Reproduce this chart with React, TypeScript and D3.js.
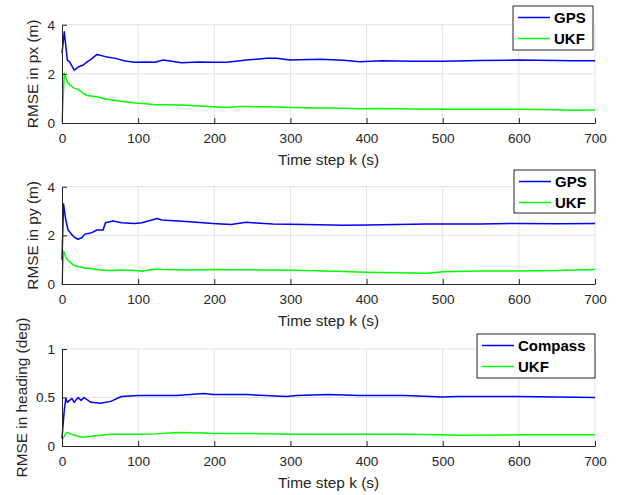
import React from "react";
import * as d3 from "d3";

// time steps + RMSE values
const stepsPx = [0, 3, 7, 10, 16, 22, 28, 33, 38, 46, 57, 70, 83, 96, 110, 122, 133, 157, 180, 198, 216, 234, 242, 269, 282, 299, 339, 370, 391, 420, 460, 500, 550, 600, 650, 670, 700];
const gpsPx = [2.83, 3.71, 2.56, 2.49, 2.15, 2.29, 2.36, 2.49, 2.59, 2.79, 2.7, 2.63, 2.52, 2.47, 2.48, 2.47, 2.56, 2.45, 2.48, 2.47, 2.47, 2.53, 2.56, 2.63, 2.63, 2.56, 2.59, 2.55, 2.49, 2.53, 2.51, 2.51, 2.54, 2.56, 2.54, 2.53, 2.53];
const ukfPx = [0.03, 2.02, 1.68, 1.55, 1.42, 1.35, 1.2, 1.12, 1.1, 1.07, 0.98, 0.92, 0.86, 0.81, 0.78, 0.74, 0.74, 0.73, 0.69, 0.66, 0.63, 0.67, 0.67, 0.66, 0.65, 0.63, 0.61, 0.6, 0.58, 0.59, 0.57, 0.56, 0.56, 0.56, 0.54, 0.52, 0.53];

const stepsPy = [0, 2, 5, 8, 15, 21, 26, 30, 39, 46, 54, 57, 67, 78, 96, 105, 118, 125, 131, 168, 198, 222, 242, 260, 277, 320, 370, 400, 440, 480, 500, 550, 600, 650, 700];
const gpsPy = [1.0, 3.29, 2.63, 2.22, 1.95, 1.84, 1.9, 2.05, 2.11, 2.22, 2.22, 2.52, 2.59, 2.52, 2.49, 2.52, 2.63, 2.69, 2.63, 2.56, 2.49, 2.45, 2.54, 2.5, 2.47, 2.45, 2.42, 2.43, 2.45, 2.47, 2.47, 2.47, 2.49, 2.48, 2.49];
const ukfPy = [0.0, 1.36, 1.1, 0.97, 0.78, 0.72, 0.69, 0.66, 0.63, 0.6, 0.57, 0.57, 0.55, 0.58, 0.55, 0.52, 0.6, 0.61, 0.6, 0.58, 0.6, 0.59, 0.59, 0.58, 0.58, 0.55, 0.51, 0.48, 0.46, 0.44, 0.5, 0.53, 0.53, 0.56, 0.6];

const stepsHd = [0, 3, 5, 7, 10, 13, 16, 21, 25, 29, 38, 51, 64, 78, 100, 122, 151, 186, 198, 242, 295, 308, 350, 391, 450, 500, 520, 600, 700];
const compassHd = [0.08, 0.37, 0.49, 0.45, 0.47, 0.49, 0.45, 0.5, 0.47, 0.5, 0.45, 0.44, 0.46, 0.51, 0.52, 0.52, 0.52, 0.54, 0.53, 0.53, 0.51, 0.52, 0.53, 0.52, 0.52, 0.505, 0.51, 0.51, 0.5];
const ukfHd = [0.06, 0.1, 0.13, 0.14, 0.13, 0.12, 0.11, 0.1, 0.095, 0.09, 0.1, 0.11, 0.12, 0.12, 0.12, 0.125, 0.14, 0.135, 0.13, 0.13, 0.12, 0.12, 0.12, 0.12, 0.12, 0.115, 0.11, 0.115, 0.115];

const xTicks = [0, 100, 200, 300, 400, 500, 600, 700];

const panels = [
  { top: 24.7, bottom: 123, yMax: 4, yTicks: [0, 2, 4], ylabel: "RMSE in px (m)", ylabelX: 33, steps: stepsPx, series: [{ name: "GPS", values: gpsPx, color: "#0000ff" }, { name: "UKF", values: ukfPx, color: "#00ff00" }], legend: { x: 513, y: 6, w: 80, h: 44 } },
  { top: 186.7, bottom: 284, yMax: 4, yTicks: [0, 2, 4], ylabel: "RMSE in py (m)", ylabelX: 33, steps: stepsPy, series: [{ name: "GPS", values: gpsPy, color: "#0000ff" }, { name: "UKF", values: ukfPy, color: "#00ff00" }], legend: { x: 514, y: 170, w: 81, h: 43 } },
  { top: 349, bottom: 446, yMax: 1, yTicks: [0, 0.5, 1], ylabel: "RMSE in heading (deg)", ylabelX: 22, steps: stepsHd, series: [{ name: "Compass", values: compassHd, color: "#0000ff" }, { name: "UKF", values: ukfHd, color: "#00ff00" }], legend: { x: 477, y: 334, w: 118, h: 44 } },
];

const App = () => {
  const svg = React.useRef(null);

  React.useEffect(() => {
    d3.select(svg.current).selectAll("*").remove();
    drawChart(svg);
  }, [svg]);

  return (
    <div>
      <svg ref={svg} style={{ position: "absolute", left: 0, top: 0 }} />
    </div>
  );
};

function drawChart(svgRef) {
  const w = 621;
  const h = 495;
  const axisColor = "#262626";
  const gridColor = "#e3e3e3";
  const font = "'Liberation Sans', Arial, sans-serif";

  const svg = d3.select(svgRef.current).attr("width", w).attr("height", h).style("background", "#fff");

  const xScale = d3.scaleLinear().domain([0, 700]).range([62, 595]);

  panels.forEach((p) => {
    const yScale = d3.scaleLinear().domain([0, p.yMax]).range([p.bottom, p.top]);
    const g = svg.append("g");

    // grid
    g.selectAll(".gx")
      .data(xTicks.slice(1))
      .enter()
      .append("line")
      .attr("x1", (d) => xScale(d))
      .attr("x2", (d) => xScale(d))
      .attr("y1", p.top)
      .attr("y2", p.bottom)
      .attr("stroke", gridColor)
      .attr("stroke-width", 1);
    g.selectAll(".gy")
      .data(p.yTicks.slice(1))
      .enter()
      .append("line")
      .attr("x1", xScale(0))
      .attr("x2", xScale(700))
      .attr("y1", (d) => yScale(d))
      .attr("y2", (d) => yScale(d))
      .attr("stroke", gridColor)
      .attr("stroke-width", 1);

    // lines
    p.series.forEach((s) => {
      const line = d3
        .line()
        .x((d, i) => xScale(p.steps[i]))
        .y((d) => yScale(d));
      g.append("path")
        .datum(s.values)
        .attr("fill", "none")
        .attr("stroke", s.color)
        .attr("stroke-width", 1.5)
        .attr("stroke-linejoin", "round")
        .attr("d", line);
    });

    // x-axis, ticks pointing inward
    const xAxis = d3.axisBottom(xScale).tickValues(xTicks).tickSizeInner(-5).tickSizeOuter(0).tickPadding(12);
    const gx = g.append("g").attr("transform", "translate(0," + p.bottom + ")").call(xAxis);
    gx.select(".domain").attr("stroke", axisColor);
    gx.selectAll("line").attr("stroke", axisColor);
    gx.selectAll("text").attr("fill", axisColor).attr("font-size", 13.6).attr("font-family", font).attr("dy", "0.71em").attr("y", 10);

    // y-axis
    const yAxis = d3.axisLeft(yScale).tickValues(p.yTicks).tickFormat(d3.format("~g")).tickSizeInner(-5).tickSizeOuter(0).tickPadding(12);
    const gy = g.append("g").attr("transform", "translate(" + xScale(0) + ",0)").call(yAxis);
    gy.select(".domain").attr("stroke", axisColor);
    gy.selectAll("line").attr("stroke", axisColor);
    gy.selectAll("text").attr("fill", axisColor).attr("font-size", 13.6).attr("font-family", font).attr("x", -7);

    // axis labels
    g.append("text")
      .attr("x", (xScale(0) + xScale(700)) / 2)
      .attr("y", p.bottom + 42)
      .attr("text-anchor", "middle")
      .attr("font-size", 15.4)
      .attr("font-family", font)
      .attr("fill", axisColor)
      .text("Time step k (s)");
    g.append("text")
      .attr("transform", "translate(" + p.ylabelX + "," + (p.top + p.bottom) / 2 + ") rotate(-90)")
      .attr("text-anchor", "middle")
      .attr("dy", "0.35em")
      .attr("font-size", 15.4)
      .attr("font-family", font)
      .attr("fill", axisColor)
      .text(p.ylabel);

    // legend
    const lg = g.append("g").attr("transform", "translate(" + p.legend.x + "," + p.legend.y + ")");
    lg.append("rect")
      .attr("width", p.legend.w)
      .attr("height", p.legend.h)
      .attr("fill", "#fff")
      .attr("stroke", axisColor)
      .attr("stroke-width", 1);
    p.series.forEach((s, i) => {
      const yy = 11.5 + i * 21;
      lg.append("line").attr("x1", 5).attr("x2", 37).attr("y1", yy).attr("y2", yy).attr("stroke", s.color).attr("stroke-width", 1.5);
      lg.append("text")
        .attr("x", 41)
        .attr("y", yy)
        .attr("dy", "0.36em")
        .attr("font-size", 15)
        .attr("font-weight", "bold")
        .attr("font-family", font)
        .attr("fill", "#000")
        .text(s.name);
    });
  });
}

export default App;
